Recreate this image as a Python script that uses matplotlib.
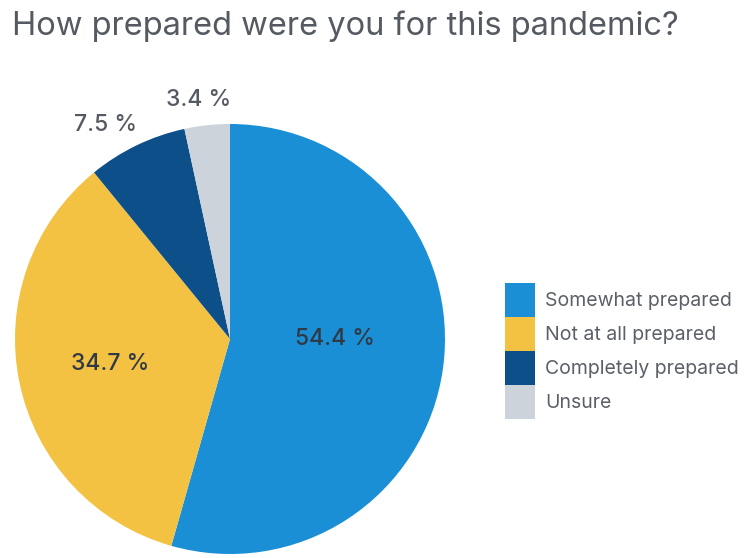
import numpy as np
import matplotlib.pyplot as plt

plt.rcParams['font.family'] = ['Inter', 'DejaVu Sans']

categories = ["Somewhat prepared", "Not at all prepared", "Completely prepared", "Unsure"]
values = [54.4, 34.7, 7.5, 3.4]
colors = ["#1a8fd6", "#f4c243", "#0d4f88", "#cdd3da"]
label_dist = [0.49, 0.57, 1.15, 1.12]
label_turn = [8.0, 0.0, 4.4, 1.5]

fig = plt.figure(figsize=(7.44, 5.58), dpi=100)
fig.patch.set_facecolor("white")

ax = fig.add_axes([15 / 744, 4 / 558, 430 / 744, 430 / 558])
wedges, _ = ax.pie(values, colors=colors, startangle=90, counterclock=False,
                   radius=1, wedgeprops=dict(linewidth=0))
ax.set_xlim(-1, 1)
ax.set_ylim(-1, 1)
ax.set_aspect("equal")

# percentage labels
for w, v, d, t in zip(wedges, values, label_dist, label_turn):
    ang = np.deg2rad((w.theta1 + w.theta2) / 2 + t)
    col = "#2f3a46" if d < 1 else "#555a62"
    ax.text(d * np.cos(ang), d * np.sin(ang), f"{v} %", ha="center", va="center",
            fontsize=16.5, color=col, fontweight="medium")

fig.text(12 / 744, 1 - 26 / 558, "How prepared were you for this pandemic?",
         fontsize=23.5, color="#555a62", va="center", ha="left")

leg = fig.legend(wedges, categories, loc="upper left",
                 bbox_to_anchor=(505 / 744, 1 - 283 / 558), frameon=False,
                 fontsize=14, handlelength=1.55, handleheight=2.32,
                 labelspacing=0.0, handletextpad=0.5, borderpad=0,
                 borderaxespad=0)
for t in leg.get_texts():
    t.set_color("#5b6068")

fig.savefig("out.png", dpi=100)
